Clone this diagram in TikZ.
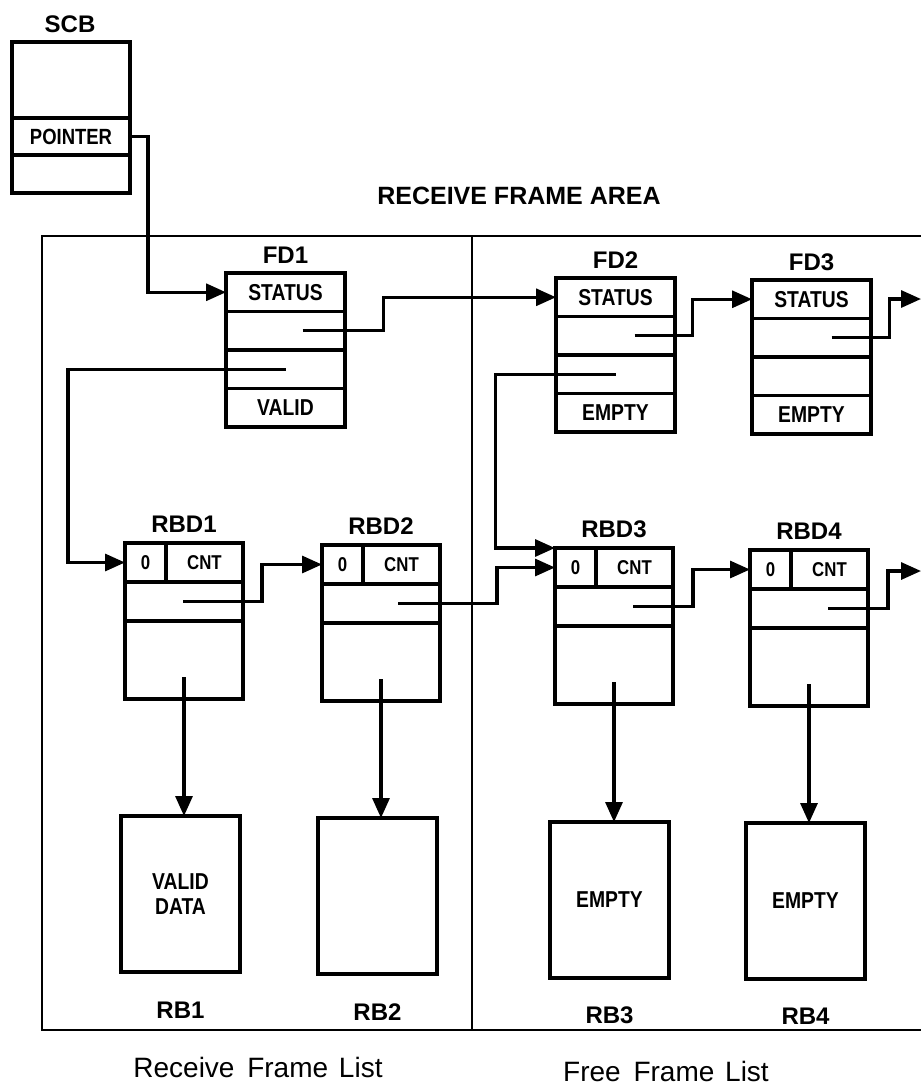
\documentclass[tikz,border=0pt]{standalone}
\usepackage{fontspec}
\setmainfont{Liberation Sans}
\newfontfamily\condfont[FakeStretch=0.84]{Liberation Sans}
\usetikzlibrary{arrows.meta,calc}
\newcommand\mkfd[5]{% name, left, top, title, last label
  \node[cell, minimum width=119pt, minimum height=38.5pt, anchor=north west] (#1s) at (#2,#3) {STATUS};
  \node[cell, minimum width=119pt, minimum height=38.5pt, anchor=north west] (#1p) at (#1s.south west) {};
  \node[cell, minimum width=119pt, minimum height=38.5pt, anchor=north west] (#1r) at (#1p.south west) {};
  \node[cell, minimum width=119pt, minimum height=38.5pt, anchor=north west] (#1v) at (#1r.south west) {#5};
  \node[ttl] (#1t) at ($(#1s.north)+(0,-18)$) {#4};
}
\newcommand\mkrbd[4]{% name, left, top, title
  \node[cell, cellsmall, minimum width=41pt, minimum height=39pt, anchor=north west] (#1z) at (#2,#3) {0};
  \node[cell, cellsmall, minimum width=77pt, minimum height=39pt, anchor=north west] (#1n) at (#1z.north east) {CNT};
  \node[cell, minimum width=118pt, minimum height=39pt, anchor=north west] (#1p) at (#1z.south west) {};
  \node[cell, minimum width=118pt, minimum height=78pt, anchor=north west] (#1b) at (#1p.south west) {};
  \node[ttl] (#1t) at ($(#1z.north west)+(59,-19)$) {#4};
}
\begin{document}
\begin{tikzpicture}[x=1pt,y=-1pt,
  cell/.style={draw, line width=3.8pt, outer sep=0pt, inner sep=0pt,
    font=\condfont\fontsize{23}{23}\selectfont\bfseries},
  cellsmall/.style={font=\condfont\fontsize{20}{20}\selectfont\bfseries},
  ttl/.style={inner sep=0pt, font=\fontsize{24}{24}\selectfont\bfseries},
  buf/.style={draw, line width=3.8pt, outer sep=0pt, inner sep=0pt,
    minimum width=119pt, minimum height=156pt, align=center,
    font=\condfont\fontsize{23}{25}\selectfont\bfseries},
  area/.style={draw, line width=2.6pt, outer sep=0pt, inner sep=0pt, anchor=north west},
  biglbl/.style={inner sep=0pt, font=\fontsize{28}{28}\selectfont},
  arr/.style={line width=3.2pt, -{Triangle[length=20pt,width=17pt]}}
]
\useasboundingbox (0,0) rectangle (921,1087);

% areas
\node[area, minimum width=430pt, minimum height=794pt] (rfl) at (42,236) {};
\node[area, minimum width=480pt, minimum height=794pt] (ffl) at (472,236) {};
\node[ttl, font=\fontsize{25}{25}\selectfont\bfseries] (rfa) at (519,196) {RECEIVE FRAME AREA};
\node[biglbl] (rfllbl) at (258,1067) {Receive\hspace{5pt} Frame\hspace{3pt} List};
\node[biglbl] (ffllbl) at (666,1071) {Free\hspace{5pt} Frame\hspace{3pt} List};

% SCB
\node[cell, minimum width=118pt, minimum height=76pt, anchor=north west] (scbt) at (12,42) {};
\node[cell, minimum width=118pt, minimum height=37pt, anchor=north west, font=\condfont\fontsize{22}{22}\selectfont\bfseries] (scbp) at (scbt.south west) {POINTER};
\node[cell, minimum width=118pt, minimum height=38pt, anchor=north west] (scbb) at (scbp.south west) {};
\node[ttl] (scbtl) at (70,24) {SCB};

% frame descriptors
\mkfd{fd1}{226}{273}{FD1}{VALID}
\mkfd{fd2}{556}{278}{FD2}{EMPTY}
\mkfd{fd3}{752}{280}{FD3}{EMPTY}

% receive buffer descriptors
\mkrbd{rbd1}{125}{543}{RBD1}
\mkrbd{rbd2}{322}{545}{RBD2}
\mkrbd{rbd3}{555}{548}{RBD3}
\mkrbd{rbd4}{750}{550}{RBD4}

% receive buffers
\node[buf, anchor=north west] (rb1) at (121,816) {VALID\\DATA};
\node[buf, anchor=north west] (rb2) at (318,818) {};
\node[buf, anchor=north west] (rb3) at (550,822) {EMPTY};
\node[buf, anchor=north west] (rb4) at (746,823) {EMPTY};
\node[ttl] (rb1l) at ($(rb1.south)+(0,38)$) {RB1};
\node[ttl] (rb2l) at ($(rb2.south)+(0,38)$) {RB2};
\node[ttl] (rb3l) at ($(rb3.south)+(0,37)$) {RB3};
\node[ttl] (rb4l) at ($(rb4.south)+(0,37)$) {RB4};

% free ends
\coordinate (fd3next) at (921,299);
\coordinate (rbd4next) at (921,571);

% links
\draw[arr] (scbp.east) -- ++(18,0) |- (fd1s.west);
\draw[arr] ($(fd1p.center)+(17,0)$) -- ++(81,0) |- (fd2s.west);
\draw[arr] (fd1r.center) -- ++(-217.5,0) |- (rbd1z.west);
\draw[arr] ($(fd2p.center)+(19,0)$) -- ++(58,0) |- (fd3s.west);
\draw[arr] (fd2r.center) -- ++(-120,0) |- (rbd3z.north west);
\draw[arr] ($(fd3p.center)+(20,0)$) -- ++(58,0) |- (fd3next);

\draw[arr] ($(rbd1p.center)+(-1,0)$) -- ++(79,0) |- (rbd2z.west);
\draw[arr] ($(rbd2p.center)+(17,0)$) -- ++(99,0) |- (rbd3z.west);
\draw[arr] ($(rbd3p.center)+(19,0)$) -- ++(60,0) |- (rbd4z.west);
\draw[arr] ($(rbd4p.center)+(19,0)$) -- ++(60,0) |- (rbd4next);

\draw[arr] ($(rbd1b.center)+(0,17)$) -- (rbd1b.center |- rb1.north);
\draw[arr] ($(rbd2b.center)+(0,17)$) -- (rbd2b.center |- rb2.north);
\draw[arr] ($(rbd3b.center)+(0,17)$) -- (rbd3b.center |- rb3.north);
\draw[arr] ($(rbd4b.center)+(0,17)$) -- (rbd4b.center |- rb4.north);
\end{tikzpicture}
\end{document}
